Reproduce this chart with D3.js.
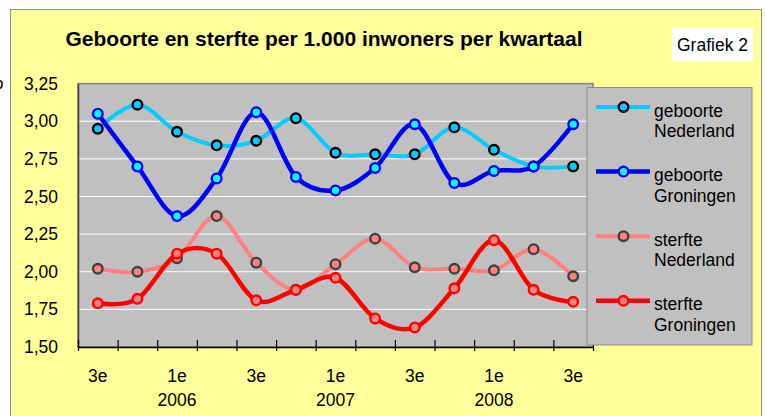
<!DOCTYPE html>
<html>
<head>
<meta charset="utf-8">
<script src="https://cdn.jsdelivr.net/npm/d3@7"></script>
<style>
    body { margin: 0; background: #fff; }
    svg { display: block; font-family: "Liberation Sans", Arial, sans-serif; }
</style>
</head>
<body>
<div id="chart"></div>
<script>
// quarters shown on the x axis
const categories = ["3e 2005", "4e 2005", "1e 2006", "2e 2006", "3e 2006", "4e 2006",
    "1e 2007", "2e 2007", "3e 2007", "4e 2007", "1e 2008", "2e 2008", "3e 2008"];
const tickLabels = ["3e", "", "1e", "", "3e", "", "1e", "", "3e", "", "1e", "", "3e"];
const yearLabels = ["", "", "2006", "", "", "", "2007", "", "", "", "2008", "", ""];
const yTicks = [1.5, 1.75, 2.0, 2.25, 2.5, 2.75, 3.0, 3.25];

// per 1.000 inwoners
const geboorteNederland = [2.95, 3.11, 2.93, 2.84, 2.87, 3.02, 2.79, 2.78, 2.78, 2.96, 2.81, 2.70, 2.70];
const geboorteGroningen = [3.05, 2.70, 2.37, 2.62, 3.06, 2.63, 2.54, 2.69, 2.98, 2.59, 2.67, 2.70, 2.98];
const sterfteNederland  = [2.02, 2.00, 2.09, 2.37, 2.06, 1.88, 2.05, 2.22, 2.03, 2.02, 2.01, 2.15, 1.97];
const sterfteGroningen  = [1.79, 1.82, 2.12, 2.12, 1.81, 1.88, 1.96, 1.69, 1.63, 1.89, 2.21, 1.88, 1.80];

const series = [
    {name: ["geboorte", "Nederland"], values: geboorteNederland, line: "#00ccff", fill: "#00ccff", stroke: "#000000", width: 4},
    {name: ["geboorte", "Groningen"], values: geboorteGroningen, line: "#0000ff", fill: "#00ffff", stroke: "#0000ff", width: 4.5},
    {name: ["sterfte", "Nederland"], values: sterfteNederland, line: "#ff8080", fill: "#ff8080", stroke: "#404040", width: 4},
    {name: ["sterfte", "Groningen"], values: sterfteGroningen, line: "#ff0000", fill: "#ff8080", stroke: "#ff0000", width: 4.5}
];

const W = 765, H = 416;
const plot = {left: 78, right: 593, top: 83.6, bottom: 347};

const svg = d3.select("#chart").append("svg")
    .attr("width", W)
    .attr("height", H);

// chart background
svg.append("rect")
    .attr("x", 10.5).attr("y", 9.5)
    .attr("width", 751).attr("height", 420)
    .attr("fill", "#ffff99")
    .attr("stroke", "#8c8c8c");

// cut-off glyph at the left edge (as in the source picture)
svg.append("text")
    .attr("x", -6).attr("y", 89)
    .attr("font-size", "17px")
    .text("o");

// title
svg.append("text")
    .attr("x", 324)
    .attr("y", 45.5)
    .attr("text-anchor", "middle")
    .attr("font-size", "21px")
    .attr("font-weight", "bold")
    .text("Geboorte en sterfte per 1.000 inwoners per kwartaal");

// "Grafiek 2" label
svg.append("rect")
    .attr("x", 672).attr("y", 28)
    .attr("width", 81).attr("height", 33)
    .attr("fill", "#fff");
svg.append("text")
    .attr("x", 712.5).attr("y", 50.5)
    .attr("text-anchor", "middle")
    .attr("font-size", "17.5px")
    .text("Grafiek 2");

// scales
const x = d3.scaleBand()
    .domain(categories)
    .range([plot.left, plot.right]);

const xTick = d3.scaleLinear()
    .domain([0, categories.length])
    .range([plot.left, plot.right]);

const y = d3.scaleLinear()
    .domain([1.5, 3.25])
    .range([plot.bottom, plot.top]);

const nl = d3.formatLocale({decimal: ",", thousands: ".", grouping: [3], currency: ["€", ""]});
const fmt = nl.format(".2f");

// plot area
svg.append("rect")
    .attr("x", plot.left).attr("y", plot.top)
    .attr("width", plot.right - plot.left)
    .attr("height", plot.bottom - plot.top)
    .attr("fill", "#c0c0c0")
    .attr("stroke", "#808080")
    .attr("stroke-width", 1.5);

// gridlines
svg.append("g")
    .selectAll("line")
    .data(yTicks.slice(1, -1))
    .enter().append("line")
    .attr("x1", plot.left).attr("x2", plot.right)
    .attr("y1", d => y(d)).attr("y2", d => y(d))
    .attr("stroke", "#ffffff")
    .attr("stroke-width", 1);

// y axis
const yAxis = svg.append("g")
    .attr("transform", `translate(${plot.left},0)`)
    .call(d3.axisLeft(y).tickValues(yTicks).tickSize(0).tickPadding(20).tickFormat(fmt));
yAxis.select(".domain").attr("stroke", "#404040").attr("stroke-width", 1.5);
yAxis.selectAll("text")
    .attr("font-size", "17.5px")
    .attr("font-family", "Liberation Sans, Arial, sans-serif")
    .attr("fill", "#000");

// x axis (ticks between the quarters)
const xAxis = svg.append("g")
    .attr("transform", `translate(0,${plot.bottom})`)
    .call(d3.axisBottom(xTick).tickValues(d3.range(categories.length + 1)).tickSizeOuter(0).tickFormat(""));
xAxis.select(".domain").attr("stroke", "#000").attr("stroke-width", 1.5);
xAxis.selectAll(".tick line")
    .attr("y1", -7).attr("y2", 4)
    .attr("stroke", "#000")
    .attr("stroke-width", 1.2);

svg.append("g")
    .selectAll("text")
    .data(categories)
    .enter().append("text")
    .attr("x", d => x(d) + x.bandwidth() / 2)
    .attr("y", 381.5)
    .attr("text-anchor", "middle")
    .attr("font-size", "17.5px")
    .text((d, i) => tickLabels[i]);

svg.append("g")
    .selectAll("text")
    .data(categories)
    .enter().append("text")
    .attr("x", d => x(d) + x.bandwidth() / 2)
    .attr("y", 405.5)
    .attr("text-anchor", "middle")
    .attr("font-size", "17.5px")
    .text((d, i) => yearLabels[i]);

// lines + markers, series by series
const line = d3.line()
    .x((d, i) => x(categories[i]) + x.bandwidth() / 2)
    .y(d => y(d))
    .curve(d3.curveCardinal.tension(0));

series.forEach(s => {
    const g = svg.append("g");
    g.append("path")
        .datum(s.values)
        .attr("d", line)
        .attr("fill", "none")
        .attr("stroke", s.line)
        .attr("stroke-width", s.width)
        .attr("stroke-linejoin", "round");
    g.selectAll("circle")
        .data(s.values)
        .enter().append("circle")
        .attr("cx", (d, i) => x(categories[i]) + x.bandwidth() / 2)
        .attr("cy", d => y(d))
        .attr("r", 4.8)
        .attr("fill", s.fill)
        .attr("stroke", s.stroke)
        .attr("stroke-width", 2.4);
});

// legend
const legend = svg.append("g")
    .attr("transform", "translate(587,87.5)");

legend.append("rect")
    .attr("width", 165).attr("height", 257.5)
    .attr("fill", "#c0c0c0")
    .attr("stroke", "#8a8a8a")
    .attr("stroke-width", 1);

const items = legend.selectAll(".item")
    .data(series)
    .enter().append("g")
    .attr("class", "item")
    .attr("transform", (d, i) => `translate(0,${19.5 + i * 64.6})`);

items.append("line")
    .attr("x1", 9).attr("x2", 63)
    .attr("stroke", d => d.line)
    .attr("stroke-width", d => d.width);

items.append("circle")
    .attr("cx", 36.5)
    .attr("r", 4.8)
    .attr("fill", d => d.fill)
    .attr("stroke", d => d.stroke)
    .attr("stroke-width", 2.4);

items.append("text")
    .attr("x", 67)
    .attr("y", 9.5)
    .attr("font-size", "17.5px")
    .text(d => d.name[0]);

items.append("text")
    .attr("x", 67)
    .attr("y", 30)
    .attr("font-size", "17.5px")
    .text(d => d.name[1]);
</script>
</body>
</html>
